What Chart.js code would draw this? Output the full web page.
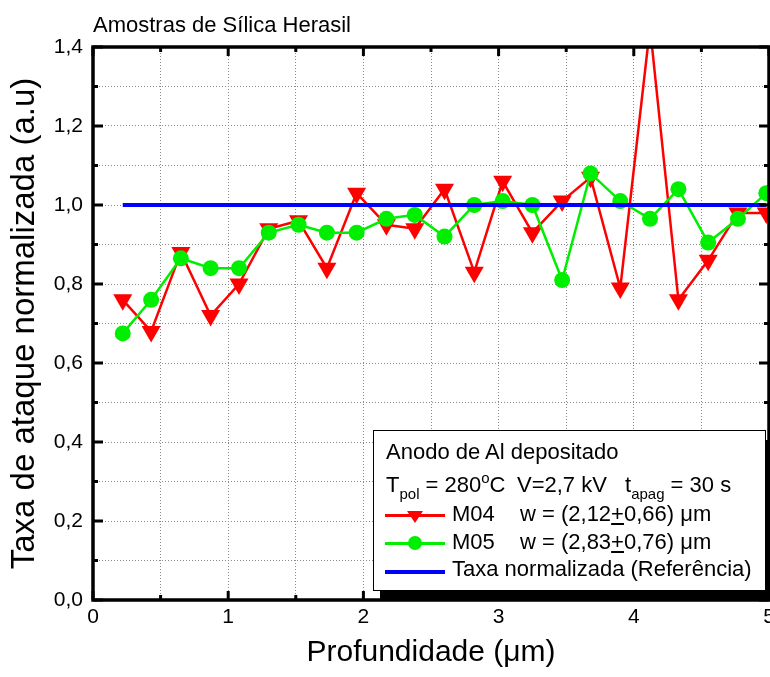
<!DOCTYPE html>
<html>
<head>
<meta charset="utf-8">
<script src="https://cdn.jsdelivr.net/npm/chart.js@4.4.1/dist/chart.umd.min.js"></script>
<style>
    html, body { margin: 0; padding: 0; background: #fff; }
    body { font-family: "Liberation Sans", Arial, sans-serif; color: #000; }
    .wrap { position: relative; width: 770px; height: 677px; overflow: hidden; }
    canvas { display: block; }
    .txt { position: absolute; white-space: nowrap; font-size: 22px; line-height: 22px; }
    .txt sub, .txt sup { font-size: 15px; line-height: 0; }
    .txt sub { vertical-align: -7px; }
    .txt sup { vertical-align: 9px; }
    .title { left: 93px; top: 14px; }
    .legend-box {
        position: absolute; left: 373px; top: 430px; width: 391px; height: 159px;
        background: #fff; border: 1.5px solid #000; box-shadow: 7px 10px 0 #000;
    }
    .sample { position: absolute; left: 385px; width: 60px; }
    .tri { position: absolute; width: 0; height: 0; border-left: 8px solid transparent; border-right: 8px solid transparent; border-top: 12px solid #ff0000; }
    .dot { position: absolute; width: 14px; height: 14px; border-radius: 50%; background: #00ee00; }
</style>
</head>
<body>
<div class="wrap">
    <canvas id="chart" width="790" height="677"></canvas>

    <div class="txt title">Amostras de Sílica Herasil</div>

    <div class="legend-box"></div>
    <div class="txt" style="left:386px; top:441px;">Anodo de Al depositado</div>
    <div class="txt" style="left:386px; top:474px;">T<sub>pol</sub> = 280<sup>o</sup>C</div>
    <div class="txt" style="left:517px; top:474px;">V=2,7 kV</div>
    <div class="txt" style="left:625px; top:474px;">t<sub>apag</sub> = 30 s</div>

    <div class="sample" style="top:514px; height:2.5px; background:#ff0000;"></div>
    <div class="tri" style="left:407px; top:511px;"></div>
    <div class="txt" style="left:452px; top:503px;">M04</div>
    <div class="txt" style="left:520px; top:503px;">w = (2,12<u>+</u>0,66) μm</div>

    <div class="sample" style="top:542px; height:2.5px; background:#00ee00;"></div>
    <div class="dot" style="left:408px; top:536px;"></div>
    <div class="txt" style="left:452px; top:531px;">M05</div>
    <div class="txt" style="left:520px; top:531px;">w = (2,83<u>+</u>0,76) μm</div>

    <div class="sample" style="top:570px; height:4px; background:#0000ff;"></div>
    <div class="txt" style="left:452px; top:558px;">Taxa normalizada (Referência)</div>
</div>

<script>
// profundidade (um) e taxa de ataque normalizada
const depth = [0.22, 0.43, 0.65, 0.87, 1.08, 1.30, 1.52, 1.73, 1.95, 2.17, 2.38, 2.60,
               2.82, 3.03, 3.25, 3.47, 3.68, 3.90, 4.12, 4.33, 4.55, 4.77, 4.98];
const taxaM04 = [0.76, 0.68, 0.88, 0.72, 0.80, 0.94, 0.96, 0.84, 1.03, 0.95, 0.94, 1.04,
                 0.83, 1.06, 0.93, 1.01, 1.07, 0.79, 1.45, 0.76, 0.86, 0.98, 0.98];
const taxaM05 = [0.675, 0.76, 0.865, 0.84, 0.84, 0.93, 0.95, 0.93, 0.93, 0.965, 0.975, 0.92,
                 1.00, 1.01, 1.00, 0.81, 1.08, 1.01, 0.965, 1.04, 0.905, 0.965, 1.03];
const taxaRef = [1, 1, 1, 1, 1, 1, 1, 1, 1, 1, 1, 1,
                 1, 1, 1, 1, 1, 1, 1, 1, 1, 1, 1];

const xTicksMajor = [0, 1, 2, 3, 4, 5];
const yTicksMajor = [0, 0.2, 0.4, 0.6, 0.8, 1.0, 1.2, 1.4];

Chart.defaults.font.family = '"Liberation Sans", Arial, sans-serif';
Chart.defaults.color = '#000';

const toPoints = (ys) => depth.map((x, i) => ({ x: x, y: ys[i] }));
const isMajor = (v, list) => list.some(t => Math.abs(t - v) < 1e-6);

// moldura preta com marcas para dentro
const framePlugin = {
    id: 'frame',
    afterDatasetsDraw(chart) {
        const { ctx, chartArea: a, scales: { x, y } } = chart;
        ctx.save();
        ctx.strokeStyle = '#000';
        ctx.lineWidth = 3;
        ctx.lineCap = 'butt';
        x.ticks.forEach(t => {
            const px = x.getPixelForValue(t.value);
            const len = isMajor(t.value, xTicksMajor) ? 9 : 5;
            ctx.beginPath();
            ctx.moveTo(px, a.bottom); ctx.lineTo(px, a.bottom - len);
            ctx.moveTo(px, a.top); ctx.lineTo(px, a.top + len);
            ctx.stroke();
        });
        y.ticks.forEach(t => {
            const py = y.getPixelForValue(t.value);
            const len = isMajor(t.value, yTicksMajor) ? 10 : 5;
            ctx.beginPath();
            ctx.moveTo(a.left, py); ctx.lineTo(a.left + len, py);
            ctx.moveTo(a.right, py); ctx.lineTo(a.right - len, py);
            ctx.stroke();
        });
        ctx.lineWidth = 3.5;
        ctx.strokeRect(a.left, a.top, a.right - a.left, a.bottom - a.top);
        ctx.restore();
    }
};

new Chart(document.getElementById('chart').getContext('2d'), {
    type: 'scatter',
    data: {
        datasets: [
            {
                label: 'Taxa normalizada (Referência)',
                data: toPoints(taxaRef),
                showLine: true,
                borderColor: '#0000ff',
                borderWidth: 4,
                pointRadius: 0,
            },
            {
                label: 'M05',
                data: toPoints(taxaM05),
                showLine: true,
                borderColor: '#00ee00',
                backgroundColor: '#00ee00',
                borderWidth: 2.5,
                pointStyle: 'circle',
                pointRadius: 8,
                pointBorderWidth: 0,
            },
            {
                label: 'M04',
                data: toPoints(taxaM04),
                showLine: true,
                borderColor: '#ff0000',
                backgroundColor: '#ff0000',
                borderWidth: 2.5,
                pointStyle: 'triangle',
                rotation: 180,
                pointRadius: 11,
                pointBorderWidth: 0,
            },
        ],
    },
    options: {
        responsive: false,
        animation: false,
        devicePixelRatio: 1,
        layout: {
            padding: { left: 0, top: 47, right: 21, bottom: 0 },
        },
        plugins: {
            legend: { display: false },
            tooltip: { enabled: false },
        },
        scales: {
            x: {
                type: 'linear',
                min: 0,
                max: 5,
                afterFit: (s) => { s.height = 77; },
                ticks: {
                    stepSize: 0.5,
                    autoSkip: false,
                    maxRotation: 0,
                    padding: 5,
                    font: { size: 21 },
                    callback: (v) => isMajor(v, xTicksMajor) ? String(Math.round(v)) : '',
                },
                grid: {
                    color: '#8a8a8a',
                    lineWidth: 1,
                    drawTicks: false,
                },
                border: { display: false, dash: [1, 2] },
                title: {
                    display: true,
                    text: 'Profundidade (μm)',
                    font: { size: 30 },
                    padding: { top: 0, bottom: 6 },
                },
            },
            y: {
                type: 'linear',
                min: 0,
                max: 1.4,
                afterFit: (s) => { s.width = 93; },
                ticks: {
                    stepSize: 0.1,
                    autoSkip: false,
                    padding: 10,
                    font: { size: 21 },
                    callback: (v) => isMajor(v, yTicksMajor) ? v.toFixed(1).replace('.', ',') : '',
                },
                grid: {
                    color: '#8a8a8a',
                    lineWidth: 1,
                    drawTicks: false,
                },
                border: { display: false, dash: [1, 2] },
                title: {
                    display: true,
                    text: 'Taxa de ataque normalizada (a.u)',
                    font: { size: 33 },
                    padding: { top: 5, bottom: 0 },
                },
            },
        },
    },
    plugins: [framePlugin],
});
</script>
</body>
</html>
